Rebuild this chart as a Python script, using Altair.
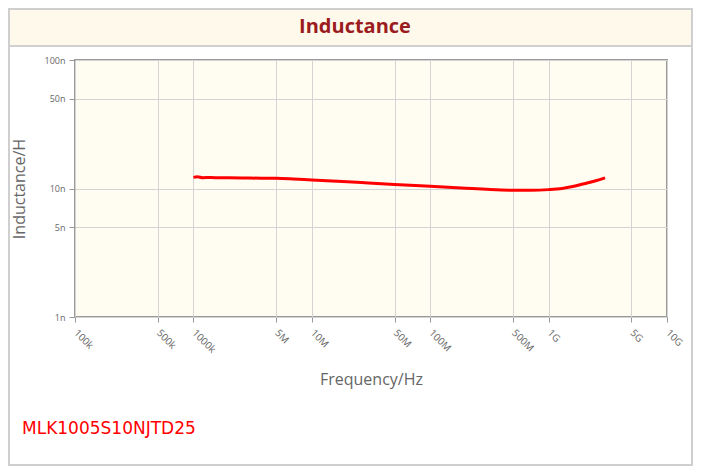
import altair as alt
import pandas as pd

# ---- data ----
freq_hz = [1.0e6, 1.08e6, 1.2e6, 1.4e6, 1.7e6, 2e6, 3e6, 5e6, 7e6, 1e7, 2e7, 3e7,
           5e7, 1e8, 2e8, 3e8, 5e8, 7e8, 1e9, 1.3e9, 1.6e9, 2e9, 2.5e9, 3e9]
induct_nh = [12.2, 12.35, 12.15, 12.2, 12.1, 12.1, 12.05, 12.0, 11.85, 11.65, 11.3, 11.05,
             10.75, 10.4, 10.05, 9.85, 9.7, 9.7, 9.8, 10.0, 10.35, 10.9, 11.5, 12.1]

x_ticks = [1e5, 5e5, 1e6, 5e6, 1e7, 5e7, 1e8, 5e8, 1e9, 5e9, 1e10]
x_tick_labels = ["100k", "500k", "1000k", "5M", "10M", "50M", "100M", "500M", "1G", "5G", "10G"]
y_ticks = [1e-9, 5e-9, 1e-8, 5e-8, 1e-7]
y_tick_labels = ["1n", "5n", "10n", "50n", "100n"]

chart_title = "Inductance"
part_number = "MLK1005S10NJTD25"

df = pd.DataFrame({"f": freq_hz, "L": [v * 1e-9 for v in induct_nh]})
one = pd.DataFrame({"k": [0]})


def label_expr(vals, labels):
    arr_v = "[" + ",".join(repr(v) for v in vals) + "]"
    arr_l = "[" + ",".join("'" + s + "'" for s in labels) + "]"
    return f"{arr_l}[indexof({arr_v}, datum.value)]"


W, H = 592, 257
PL, PT, PR, PB = 67, 52, 26, 149

band = alt.Chart(one).mark_rect(fill="#FFF9EB").encode(
    x=alt.value(-PL), x2=alt.value(W + PR), y=alt.value(-PT), y2=alt.value(-14)
)
band_line = alt.Chart(one).mark_rule(color="#D0D0D0", strokeWidth=2).encode(
    x=alt.value(-PL), x2=alt.value(W + PR), y=alt.value(-14)
)
frame = alt.Chart(one).mark_rect(fill=None, stroke="#CFCFCF", strokeWidth=2).encode(
    x=alt.value(-PL + 1), x2=alt.value(W + PR - 1), y=alt.value(-PT + 1), y2=alt.value(H + PB - 1)
)
title_txt = alt.Chart(one).mark_text(
    text=chart_title, font="Open Sans", fontSize=20, fontWeight="bold",
    color="#9B1C20", align="center", baseline="middle"
).encode(x=alt.value(347 - PL), y=alt.value(-33))
part_txt = alt.Chart(one).mark_text(
    text=part_number, font="DejaVu Sans", fontSize=17, color="#FF0000",
    align="left", baseline="alphabetic"
).encode(x=alt.value(-53), y=alt.value(374))

line = alt.Chart(df).mark_line(color="#FF0000", strokeWidth=3, interpolate="monotone").encode(
    x=alt.X("f:Q", scale=alt.Scale(type="log", domain=[1e5, 1e10], nice=False),
            axis=alt.Axis(values=x_ticks, labelExpr=label_expr(x_ticks, x_tick_labels),
                          labelAngle=45, labelAlign="left", labelBaseline="middle",
                          labelFont="Open Sans", labelFontSize=10, labelColor="#666666",
                          labelPadding=9, tickSize=5, tickColor="#999999",
                          domain=False, grid=True, gridColor="#D4D4D4",
                          title="Frequency/Hz", titleFont="Open Sans", titleFontSize=16,
                          titleFontWeight="normal", titleColor="#666666",
                          titleY=62, titleBaseline="middle", labelOverlap=False)),
    y=alt.Y("L:Q", scale=alt.Scale(type="log", domain=[1e-9, 1e-7], nice=False),
            axis=alt.Axis(values=y_ticks, labelExpr=label_expr(y_ticks, y_tick_labels),
                          labelFont="Open Sans", labelFontSize=9, labelColor="#666666",
                          labelPadding=4, tickSize=6, tickColor="#999999",
                          domain=False, grid=True, gridColor="#D4D4D4",
                          title="Inductance/H", titleFont="Open Sans", titleFontSize=16,
                          titleFontWeight="normal", titleColor="#666666",
                          titleX=-56, titleY=H / 2, titleAngle=-90,
                          titleAlign="center", titleBaseline="middle", labelOverlap=False)),
)

chart = alt.layer(band, band_line, frame, title_txt, part_txt, line).properties(
    width=W, height=H,
    padding={"left": PL, "top": PT, "right": PR, "bottom": PB},
    autosize=alt.AutoSizeParams(type="none"),
    background="white",
).configure_view(fill="#FFFCF2", stroke="#9A9A9A", strokeWidth=2)

chart.save("out.html", embed_options={"renderer": "svg", "actions": False})
